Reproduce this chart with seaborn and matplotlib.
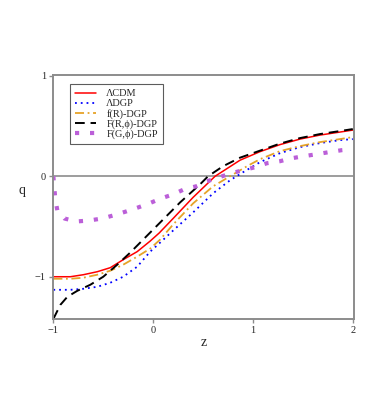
import numpy as np
import pandas as pd
import matplotlib
matplotlib.use('Agg')
import matplotlib.pyplot as plt
import seaborn as sns

sns.set_style('white')
plt.rcParams['font.family'] = ['Liberation Serif', 'DejaVu Serif']

# values
z_lcdm = [-1, -0.83, -0.7, -0.56, -0.43, -0.3, -0.16, -0.03, 0.06, 0.2, 0.4, 0.62,
          0.87, 1.07, 1.27, 1.47, 1.67, 1.87, 2.0]
q_lcdm = [-1.0, -1.0, -0.98, -0.95, -0.91, -0.83, -0.75, -0.645, -0.565, -0.42, -0.21, 0.0,
          0.16, 0.245, 0.315, 0.37, 0.41, 0.44, 0.46]

z_ldgp = [-1, -0.83, -0.7, -0.56, -0.43, -0.3, -0.16, -0.03, 0.07, 0.2, 0.4, 0.6,
          0.77, 0.9, 1.07, 1.27, 1.47, 1.67, 1.87, 2.0]
q_ldgp = [-1.13, -1.13, -1.12, -1.10, -1.06, -1.0, -0.90, -0.75, -0.66, -0.54, -0.36, -0.17,
          -0.04, 0.04, 0.14, 0.23, 0.29, 0.33, 0.36, 0.37]

z_fr = [-1, -0.83, -0.7, -0.56, -0.43, -0.3, -0.16, -0.03, 0.07, 0.2, 0.4, 0.6,
        0.77, 0.94, 1.07, 1.27, 1.47, 1.67, 1.87, 2.0]
q_fr = [-1.02, -1.02, -1.01, -0.98, -0.94, -0.88, -0.80, -0.72, -0.63, -0.48, -0.27, -0.10,
        0.0, 0.10, 0.17, 0.25, 0.30, 0.34, 0.37, 0.39]

z_frphi = [-1, -0.99, -0.93, -0.86, -0.76, -0.63, -0.5, -0.36, -0.23, -0.1, 0.07, 0.27,
           0.47, 0.55, 0.7, 0.87, 1.07, 1.27, 1.47, 1.67, 1.87, 2.0]
q_frphi = [-1.42, -1.40, -1.28, -1.20, -1.14, -1.08, -1.0, -0.88, -0.76, -0.63, -0.46, -0.26,
           -0.08, 0.0, 0.10, 0.185, 0.255, 0.325, 0.38, 0.42, 0.45, 0.47]

z_fgphi = [-1, -0.99, -0.98, -0.96, -0.89, -0.77, -0.64, -0.51, -0.40, -0.27, -0.15,
           -0.04, 0.08, 0.20, 0.31, 0.43, 0.54, 0.66, 0.78, 0.90, 1.02, 1.14, 1.27,
           1.39, 1.51, 1.64, 1.76, 1.89, 2.0]
q_fgphi = [0.0, -0.12, -0.23, -0.34, -0.42, -0.45, -0.44, -0.42, -0.39, -0.35, -0.31,
           -0.27, -0.22, -0.18, -0.13, -0.10, -0.05, -0.01, 0.03, 0.06, 0.09, 0.13, 0.15,
           0.18, 0.20, 0.22, 0.24, 0.26, 0.27]

labels = ['\u039bCDM', '\u039bDGP', 'f(R)-DGP', 'F(R,\u03d5)-DGP', 'F(G,\u03d5)-DGP']

fig = plt.figure(figsize=(3.83, 4.18), dpi=100)
ax = fig.add_axes([0.138, 0.237, 0.787, 0.584])

ax.axhline(0, color='#8c8c8c', lw=1.2, zorder=1)

sns.lineplot(x=z_lcdm, y=q_lcdm, ax=ax, color='red', lw=1.1, label=labels[0])
sns.lineplot(x=z_ldgp, y=q_ldgp, ax=ax, color='blue', lw=1.3,
             linestyle=(0, (1, 2.2)), label=labels[1])
sns.lineplot(x=z_fr, y=q_fr, ax=ax, color='#e6a328', lw=1.3,
             linestyle=(0, (5, 2, 1, 2)), label=labels[2])
sns.lineplot(x=z_frphi, y=q_frphi, ax=ax, color='black', lw=1.4,
             linestyle=(0, (5, 3)), label=labels[3])
sns.lineplot(x=z_fgphi, y=q_fgphi, ax=ax, color='#bb5fd8', lw=3.0,
             linestyle=(0, (1, 2.6)), label=labels[4])

ax.set_xlim(-1.005, 2.015)
ax.set_ylim(-1.42, 1.01)
ax.set_xticks([-1, 0, 1, 2])
ax.set_yticks([-1, 0, 1])
ax.set_xticklabels(['\u22121', '0', '1', '2'])
ax.set_yticklabels(['\u22121', '0', '1'])
ax.tick_params(direction='out', length=3, width=1, color='#8c8c8c',
               labelsize=7.5, pad=2, bottom=True, left=True)
for s in ax.spines.values():
    s.set_color('#8c8c8c')
    s.set_linewidth(1.4)

ax.set_xlabel('z', fontsize=10, labelpad=1)
ax.set_ylabel('q', fontsize=10, rotation=0, labelpad=9)

leg = ax.legend(loc='upper left', bbox_to_anchor=(0.058, 0.962), fontsize=7.4,
                frameon=True, fancybox=False, edgecolor='#333333',
                handlelength=2.0, labelspacing=0.06, borderpad=0.5,
                handletextpad=1.0, borderaxespad=0)
leg.get_frame().set_linewidth(0.8)

fig.savefig('out.png', dpi=100)
